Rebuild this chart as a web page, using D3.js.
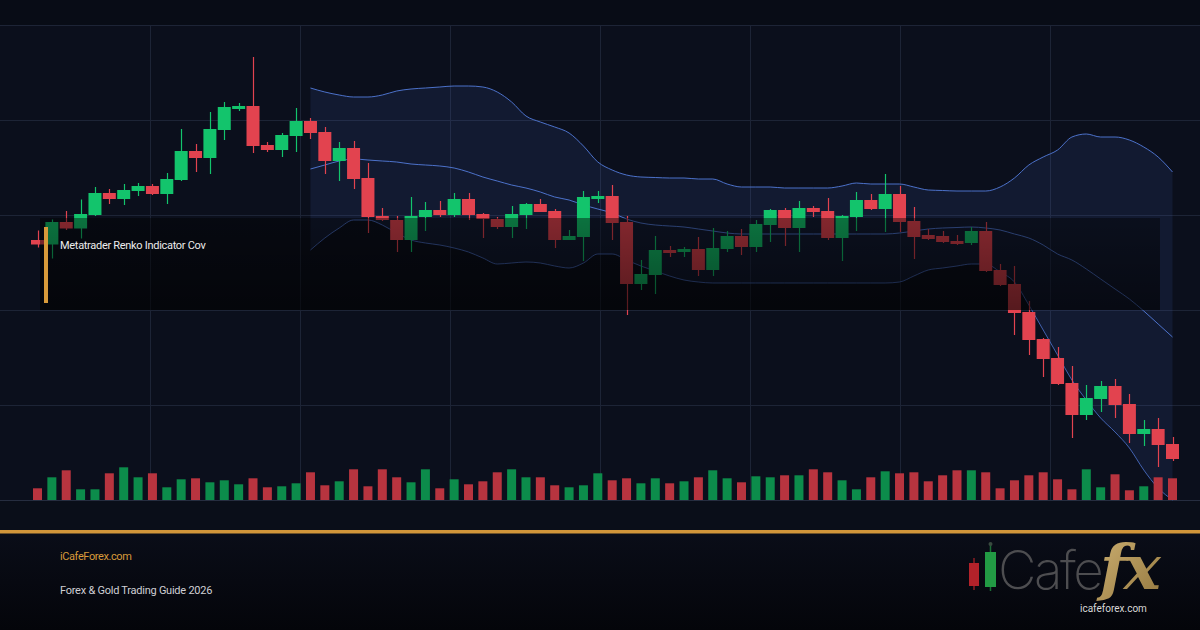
<!DOCTYPE html>
<html>
<head>
<meta charset="utf-8">
<script src="https://cdn.jsdelivr.net/npm/d3@7"></script>
<style>
  html, body { margin: 0; padding: 0; background: #0a0e19; }
  svg { display: block; }
</style>
</head>
<body>
<svg id="viz"></svg>
<script>
const width = 1200;
const height = 630;

// candles: open, high, low, close
const opens  = [152.0,151.1,155.6,154.3,157.0,161.4,160.2,161.8,162.8,161.2,164.0,169.8,168.4,174.0,178.2,178.8,171.0,170.0,172.8,175.8,
                173.6,167.8,170.4,164.4,156.8,156.0,152.0,156.6,158.0,157.0,160.2,157.2,156.2,154.6,157.0,159.2,157.8,152.0,152.6,160.2,
                160.8,155.6,143.2,145.0,150.0,149.6,150.2,146.0,150.2,152.8,150.6,155.0,158.0,154.4,158.4,157.8,152.4,156.6,160.0,158.2,
                161.2,155.8,153.0,152.8,151.8,151.4,153.8,146.0,143.2,137.6,132.2,128.4,123.4,117.0,120.2,122.8,119.2,113.2,114.2,111.2];
const highs  = [153.9,156.1,157.8,160.1,162.6,162.2,163.2,163.4,163.2,165.4,174.2,171.2,177.6,179.6,179.4,188.6,171.6,173.4,178.4,176.4,
                174.6,171.6,171.8,167.4,158.4,156.8,160.6,159.6,159.8,161.4,161.4,157.4,156.6,158.8,159.4,160.2,158.2,154.0,161.8,161.8,
                163.0,156.8,148.0,152.8,150.8,150.6,152.6,154.4,153.8,154.2,156.0,158.2,158.4,159.8,158.8,160.4,157.0,161.6,161.2,165.2,
                162.8,158.6,154.2,153.8,153.0,154.6,155.6,147.2,146.8,139.8,132.4,130.6,126.8,123.0,123.8,124.2,121.2,116.0,116.4,112.6];
const lows   = [150.5,148.3,154.0,152.3,156.8,159.2,159.0,160.8,161.0,159.2,163.8,165.6,165.2,172.0,177.8,169.4,169.6,168.6,169.6,172.2,
                165.2,163.8,162.2,153.4,155.8,149.6,149.6,153.8,156.6,156.6,156.0,152.4,154.2,152.4,154.2,157.6,150.4,152.0,147.8,159.4,
                152.0,137.0,142.0,141.2,148.6,148.6,144.8,144.8,149.6,149.0,149.6,151.6,150.8,149.6,156.6,152.0,147.8,153.8,158.0,153.6,
                153.6,148.2,152.0,151.4,151.0,151.0,145.6,142.8,133.0,129.0,124.6,123.0,112.4,116.0,117.6,116.4,111.4,110.8,106.6,107.8];
const closes = [151.1,155.6,154.3,157.2,161.4,160.2,162.0,162.8,161.2,164.2,169.8,168.4,174.2,178.6,178.8,170.8,170.0,173.0,175.8,173.4,
                167.8,170.4,164.2,156.6,156.0,152.0,156.8,158.0,157.0,160.2,157.0,156.2,154.6,157.2,159.2,157.6,152.0,152.8,160.6,160.8,
                155.4,143.2,145.2,150.0,149.4,150.2,146.0,150.4,152.8,150.6,155.2,158.0,154.4,158.4,157.6,152.4,156.8,160.0,158.2,161.2,
                155.6,152.6,152.2,151.6,151.2,153.8,145.8,143.0,137.4,132.0,128.2,123.2,117.0,120.4,122.8,119.0,113.2,114.2,111.0,108.2];
const volumes = [1170,2270,2970,1070,1070,2670,3270,2270,2670,1270,2070,2170,1770,1970,1570,2170,1270,1370,1670,2770,
                 1470,1870,3070,1370,3070,2270,1770,3070,1170,2070,1570,1870,2770,3070,2270,2270,1470,1270,1470,2670,
                 1970,2170,1670,2170,1670,1870,2270,2970,2170,1770,2370,2270,2470,2470,3070,2770,1970,1070,2270,2870,
                 2670,2770,1870,2470,2970,2970,2770,1170,1970,2470,2770,2070,1070,3070,1270,2570,970,1370,2270,2170];

// bollinger bands, from candle 19 to the last one
const bandStart = 19;
const bandUpper = [182.4,181.6,181.0,180.6,180.6,181.0,181.8,182.2,182.4,182.6,182.8,182.8,182.6,181.6,179.6,176.8,175.6,174.6,173.4,170.8,
                   167.6,166.0,165.0,164.6,164.5,164.4,164.4,164.2,164.2,163.2,162.6,162.6,162.6,162.4,162.4,162.4,162.4,162.8,163.4,163.2,
                   163.2,163.2,162.6,162.0,161.9,161.8,161.8,161.8,162.6,164.4,167.0,168.6,170.0,172.6,173.2,172.6,172.6,172.0,170.6,168.6,165.6];
const bandMiddle = [166.2,167.0,167.8,168.2,168.0,167.8,167.6,167.2,167.0,166.8,166.4,165.6,164.6,163.8,163.0,162.4,161.6,160.6,160.0,159.0,
                    158.2,157.4,156.2,155.4,155.0,154.8,154.6,154.2,153.8,153.4,153.2,153.2,153.2,153.2,153.2,153.2,153.2,153.2,153.2,153.2,
                    153.2,153.4,153.8,154.2,154.4,154.5,154.6,154.4,154.0,153.2,152.4,151.0,149.2,148.0,146.2,144.2,142.2,140.2,137.8,135.2,132.6];
const bandLower = [150.0,152.4,154.4,156.0,156.0,155.0,153.4,152.0,151.4,151.0,150.4,149.6,148.4,147.2,147.4,147.6,147.4,146.8,146.4,147.4,
                   149.2,149.2,148.0,146.8,145.8,144.8,144.0,143.6,143.4,143.4,143.4,143.4,143.4,143.4,143.4,143.4,143.4,143.4,143.4,143.4,
                   143.4,143.6,144.8,146.0,146.4,146.8,147.2,147.2,145.6,143.6,139.0,134.0,129.0,124.0,120.0,116.4,113.6,110.4,106.0,102.4,100.0];

const gridY = [176, 157, 138, 119];
const gridX = [150, 300, 450, 600, 750, 900, 1050];

const title = 'Metatrader Renko Indicator Cov';
const site = 'iCafeForex.com';
const subtitle = 'Forex & Gold Trading Guide 2026';

const candles = opens.map((o, i) => ({
  i: i, open: o, high: highs[i], low: lows[i], close: closes[i], vol: volumes[i]
}));

const svg = d3.select('#viz').attr('width', width).attr('height', height);
const defs = svg.append('defs');

const x = d3.scaleLinear().domain([0, opens.length - 1]).range([37.5, 1172.5]);
const y = d3.scaleLinear().domain([100, 195]).range([500, 25]);
const yVol = d3.scaleLinear().domain([0, 4000]).range([500, 460]);

const RED = '#e2434f', GREEN = '#13c46c';
const VRED = '#b8343f', VGREEN = '#0c8c4b';

// backgrounds
svg.append('rect').attr('width', width).attr('height', height).attr('fill', '#0a0e19');
svg.append('rect').attr('width', width).attr('height', 25).attr('fill', '#080c16');
svg.append('rect').attr('y', 25).attr('width', width).attr('height', 475).attr('fill', '#0b0f1c');

const foot = defs.append('linearGradient').attr('id', 'foot').attr('x1', 0).attr('y1', 0).attr('x2', 0).attr('y2', 1);
foot.append('stop').attr('offset', 0).attr('stop-color', '#0a0d18');
foot.append('stop').attr('offset', 1).attr('stop-color', '#04050a');
svg.append('rect').attr('y', 534).attr('width', width).attr('height', 96).attr('fill', 'url(#foot)');

//grid
const grid = svg.append('g').attr('stroke', '#1d2436').attr('stroke-width', 1);
grid.selectAll('line.h')
  .data([195].concat(gridY))
  .join('line')
  .attr('x1', 0).attr('x2', width)
  .attr('y1', d => Math.round(y(d)) + 0.5).attr('y2', d => Math.round(y(d)) + 0.5);
grid.selectAll('line.v')
  .data(gridX)
  .join('line')
  .attr('class', 'v')
  .attr('x1', d => d + 0.5).attr('x2', d => d + 0.5)
  .attr('y1', 25).attr('y2', 500);
svg.append('line').attr('x1', 0).attr('x2', width).attr('y1', 500.5).attr('y2', 500.5)
  .attr('stroke', '#262d40');

// bollinger band
const band = bandUpper.map((u, k) => ({ i: bandStart + k, up: u, mid: bandMiddle[k], low: bandLower[k] }));

svg.append('path')
  .datum(band)
  .attr('fill', '#4a6fd0')
  .attr('fill-opacity', 0.12)
  .attr('d', d3.area().curve(d3.curveMonotoneX)
    .x(d => x(d.i)).y0(d => y(d.low)).y1(d => y(d.up)));

['up', 'mid', 'low'].forEach(key => {
  svg.append('path')
    .datum(band)
    .attr('fill', 'none')
    .attr('stroke', '#4f76d2')
    .attr('stroke-opacity', key === 'low' ? 0.8 : 0.95)
    .attr('stroke-width', 1)
    .attr('d', d3.line().curve(d3.curveMonotoneX).x(d => x(d.i)).y(d => y(d[key])));
});

// volume
svg.append('g')
  .selectAll('rect')
  .data(candles)
  .join('rect')
  .attr('x', d => x(d.i) - 4.5)
  .attr('width', 9)
  .attr('y', d => yVol(d.vol))
  .attr('height', d => 500 - yVol(d.vol))
  .attr('fill', d => d.close >= d.open ? VGREEN : VRED);

// candles
const cg = svg.append('g').selectAll('g').data(candles).join('g');
cg.append('line')
  .attr('x1', d => Math.round(x(d.i)) + 0.5).attr('x2', d => Math.round(x(d.i)) + 0.5)
  .attr('y1', d => y(d.high)).attr('y2', d => y(d.low))
  .attr('stroke', d => d.close >= d.open ? GREEN : RED)
  .attr('stroke-width', 1.2);
cg.append('rect')
  .attr('x', d => x(d.i) - 6.5)
  .attr('width', 13)
  .attr('y', d => y(Math.max(d.open, d.close)))
  .attr('height', d => Math.max(1.5, Math.abs(y(d.open) - y(d.close))))
  .attr('fill', d => d.close >= d.open ? GREEN : RED);

// title box
const shade = defs.append('linearGradient').attr('id', 'shade').attr('x1', 0).attr('y1', 0).attr('x2', 0).attr('y2', 1);
shade.append('stop').attr('offset', 0).attr('stop-color', '#000').attr('stop-opacity', 0.42);
shade.append('stop').attr('offset', 1).attr('stop-color', '#000').attr('stop-opacity', 0.62);
svg.append('rect').attr('x', 40).attr('y', 218).attr('width', 1120).attr('height', 92).attr('fill', 'url(#shade)');
svg.append('rect').attr('x', 44).attr('y', 227).attr('width', 4).attr('height', 76).attr('fill', '#d89a3a');
svg.append('text')
  .attr('x', 60).attr('y', 249)
  .attr('font-family', 'Roboto, "Liberation Sans", sans-serif')
  .attr('font-size', 11)
  .attr('letter-spacing', -0.3)
  .attr('fill', '#ececec')
  .text(title);

// footer
svg.append('rect').attr('y', 530).attr('width', width).attr('height', 3.5).attr('fill', '#d2963a');
svg.append('text')
  .attr('x', 60).attr('y', 560)
  .attr('font-family', 'Roboto, "Liberation Sans", sans-serif')
  .attr('font-size', 11).attr('letter-spacing', -0.4)
  .attr('fill', '#d89a3a')
  .text(site);
svg.append('text')
  .attr('x', 60).attr('y', 594)
  .attr('font-family', 'Roboto, "Liberation Sans", sans-serif')
  .attr('font-size', 11).attr('letter-spacing', -0.25)
  .attr('fill', '#cfcfd4')
  .text(subtitle);

// logo
const logo = svg.append('g');
logo.append('line').attr('x1', 974).attr('x2', 974).attr('y1', 558).attr('y2', 590).attr('stroke', '#8a1d22').attr('stroke-width', 1.5);
logo.append('rect').attr('x', 969).attr('y', 563).attr('width', 10).attr('height', 23).attr('fill', '#b3222a');
logo.append('line').attr('x1', 990.5).attr('x2', 990.5).attr('y1', 545).attr('y2', 591).attr('stroke', '#1a6d35').attr('stroke-width', 1.5);
logo.append('circle').attr('cx', 990.5).attr('cy', 544).attr('r', 2).attr('fill', '#3a4a40');
logo.append('rect').attr('x', 985).attr('y', 552).attr('width', 11).attr('height', 35).attr('fill', '#229a44');
logo.append('text')
  .attr('x', 998).attr('y', 589)
  .attr('font-family', 'Inter, "Open Sans", sans-serif')
  .attr('font-weight', 200)
  .attr('font-size', 53)
  .attr('letter-spacing', -2.5)
  .attr('fill', '#4d4d50')
  .text('Cafe');
const gold = defs.append('linearGradient').attr('id', 'gold').attr('x1', 0).attr('y1', 0).attr('x2', 1).attr('y2', 1);
gold.append('stop').attr('offset', 0).attr('stop-color', '#cdb072');
gold.append('stop').attr('offset', 1).attr('stop-color', '#94783f');
logo.append('text')
  .attr('x', 1100).attr('y', 589)
  .attr('font-family', '"DejaVu Serif", "Liberation Serif", serif')
  .attr('font-style', 'italic')
  .attr('font-weight', 'bold')
  .attr('font-size', 62)
  .attr('letter-spacing', -3)
  .attr('fill', 'url(#gold)')
  .text('fx');
logo.append('text')
  .attr('x', 1080).attr('y', 612)
  .attr('font-family', 'Roboto, "Liberation Sans", sans-serif')
  .attr('font-size', 10)
  .attr('fill', '#d8d8d8')
  .text('icafeforex.com');
</script>
</body>
</html>
